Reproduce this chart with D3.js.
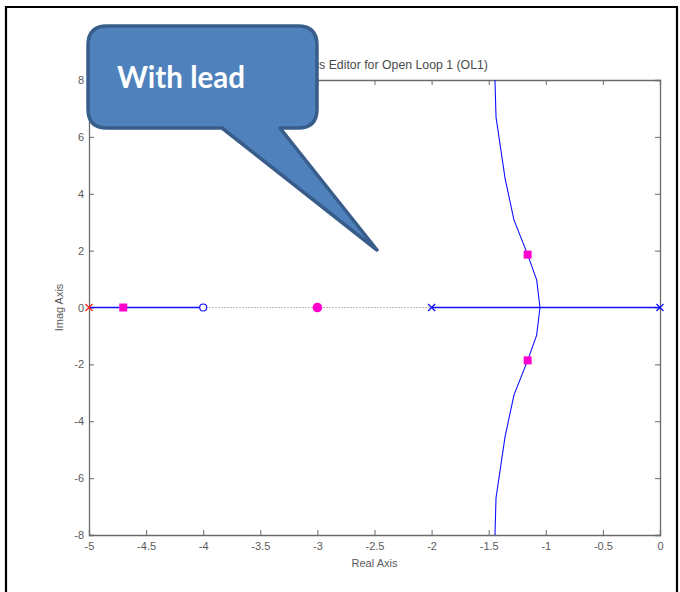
<!DOCTYPE html>
<html><head><meta charset="utf-8">
<script src="https://cdn.jsdelivr.net/npm/d3@7"></script>
<style>body{margin:0;background:#fff}svg{display:block}</style>
</head><body>
<svg id="c" width="680" height="592"></svg>
<script>
const title = "Root Locus Editor for Open Loop 1 (OL1)";
const xLabel = "Real Axis";
const yLabel = "Imag Axis";
const calloutText = "With lead";
const xTicks = [-5, -4.5, -4, -3.5, -3, -2.5, -2, -1.5, -1, -0.5, 0];
const yTicks = [-8, -6, -4, -2, 0, 2, 4, 6, 8];
const openLoopPolesRed = [-5];
const openLoopPolesBlue = [-2, 0];
const openLoopZeros = [-4];
const realSegments = [[-5, -4], [-2, 0]];
const upperBranchX = [-1.445, -1.436, -1.357, -1.279, -1.159, -1.080, -1.051];
const upperBranchY = [8.0, 6.70, 4.55, 3.08, 1.86, 0.97, 0];
const lowerBranchX = [-1.445, -1.436, -1.357, -1.279, -1.159, -1.080, -1.051];
const lowerBranchY = [-8.0, -6.70, -4.55, -3.08, -1.86, -0.97, 0];
const clPolesX = [-4.70, -1.159, -1.159];
const clPolesY = [0, 1.86, -1.86];
const clZeroX = [-3.0];

const svg = d3.select("#c");
const x = d3.scaleLinear().domain([-5, 0]).range([89, 660]);
const y = d3.scaleLinear().domain([-8, 8]).range([535, 80]);
const axisCol = "#6b6b6b", txtCol = "#5a5a5a";
const FONT = "Arial, 'Liberation Sans', sans-serif";
const BLUE = "#1010ff";

// outer frame
svg.append("path").attr("d","M6,592 V7 H677 V592").attr("fill","none").attr("stroke","#000").attr("stroke-width",2.2);

// zero line
svg.append("line").attr("x1",x(-5)).attr("x2",x(0)).attr("y1",y(0)).attr("y2",y(0))
  .attr("stroke","#bdbdbd").attr("stroke-width",1).attr("stroke-dasharray","2,1");

// axes
const fmt = d => String(d);
const gB = svg.append("g").attr("transform",`translate(0,${y(-8)})`)
  .call(d3.axisBottom(x).tickValues(xTicks).tickSize(-5).tickPadding(7).tickFormat(fmt));
const gT = svg.append("g").attr("transform",`translate(0,${y(8)})`)
  .call(d3.axisTop(x).tickValues(xTicks).tickSize(-5).tickFormat(""));
const gL = svg.append("g").attr("transform",`translate(${x(-5)},0)`)
  .call(d3.axisLeft(y).tickValues(yTicks).tickSize(-5).tickPadding(5).tickFormat(fmt));
const gR = svg.append("g").attr("transform",`translate(${x(0)},0)`)
  .call(d3.axisRight(y).tickValues(yTicks).tickSize(-5).tickFormat(""));
[gB,gT,gL,gR].forEach(g=>{
  g.select(".domain").attr("stroke",axisCol).attr("stroke-width",1.3);
  g.selectAll(".tick line").attr("stroke",axisCol);
  g.selectAll(".tick text").attr("fill",txtCol).style("font-family",FONT).style("font-size","11px");
});

// labels
svg.append("text").attr("x",(x(-5)+x(0))/2+1).attr("y",69).attr("text-anchor","middle")
  .attr("fill","#4a4a4a").style("font-family",FONT).style("font-size","12.3px").text(title);
svg.append("text").attr("x",(x(-5)+x(0))/2).attr("y",567).attr("text-anchor","middle")
  .attr("fill",txtCol).style("font-family",FONT).style("font-size","11px").text(xLabel);
svg.append("text").attr("transform",`translate(63,${y(0)}) rotate(-90)`).attr("text-anchor","middle")
  .attr("fill",txtCol).style("font-family",FONT).style("font-size","11px").text(yLabel);

// locus
const line = d3.line().x(d=>x(d[0])).y(d=>y(d[1]));
realSegments.forEach(s=>{
  svg.append("line").attr("x1",x(s[0])).attr("x2",x(s[1])).attr("y1",y(0)).attr("y2",y(0))
    .attr("stroke",BLUE).attr("stroke-width",1.4);
});
svg.append("path").attr("d",line(upperBranchX.map((v,i)=>[v,upperBranchY[i]]))).attr("stroke",BLUE).attr("stroke-width",1.1).attr("fill","none");
svg.append("path").attr("d",line(lowerBranchX.map((v,i)=>[v,lowerBranchY[i]]))).attr("stroke",BLUE).attr("stroke-width",1.1).attr("fill","none");

// poles / zeros
const cross = (px,col)=>{
  const cx=x(px), cy=y(0), r=3.5;
  svg.append("path").attr("d",`M${cx-r},${cy-r}L${cx+r},${cy+r}M${cx-r},${cy+r}L${cx+r},${cy-r}`)
    .attr("stroke",col).attr("stroke-width",1.3).attr("fill","none");
};
openLoopPolesRed.forEach(p=>cross(p,"#ff2020"));
openLoopPolesBlue.forEach(p=>cross(p,BLUE));
openLoopZeros.forEach(z=>svg.append("circle").attr("cx",x(z)).attr("cy",y(0)).attr("r",3.5)
  .attr("fill","#fff").attr("stroke",BLUE).attr("stroke-width",1.2));
clPolesX.forEach((v,i)=>svg.append("rect").attr("x",x(v)-4).attr("y",y(clPolesY[i])-4).attr("width",8).attr("height",8).attr("fill","#ff00cc"));
clZeroX.forEach(v=>svg.append("circle").attr("cx",x(v)).attr("cy",y(0)).attr("r",4.8).attr("fill","#ff00cc"));

// callout
const L=88, T=26, R=317, B=128, rr=19, p1=222, p2=280, tipX=377, tipY=250;
const cp = `M${L+rr},${T} H${R-rr} Q${R},${T} ${R},${T+rr} V${B-rr} Q${R},${B} ${R-rr},${B} H${p2} L${tipX},${tipY} L${p1},${B} H${L+rr} Q${L},${B} ${L},${B-rr} V${T+rr} Q${L},${T} ${L+rr},${T} Z`;
svg.append("path").attr("d",cp).attr("fill","#4f81bd").attr("stroke","#385d8a").attr("stroke-width",3.5).attr("stroke-linejoin","round");
svg.append("text").attr("x",117).attr("y",88).attr("fill","#fff").style("font-family","Lato, 'Open Sans', sans-serif")
  .style("font-weight","bold").style("font-size","29.5px").text(calloutText);
</script>
</body></html>
